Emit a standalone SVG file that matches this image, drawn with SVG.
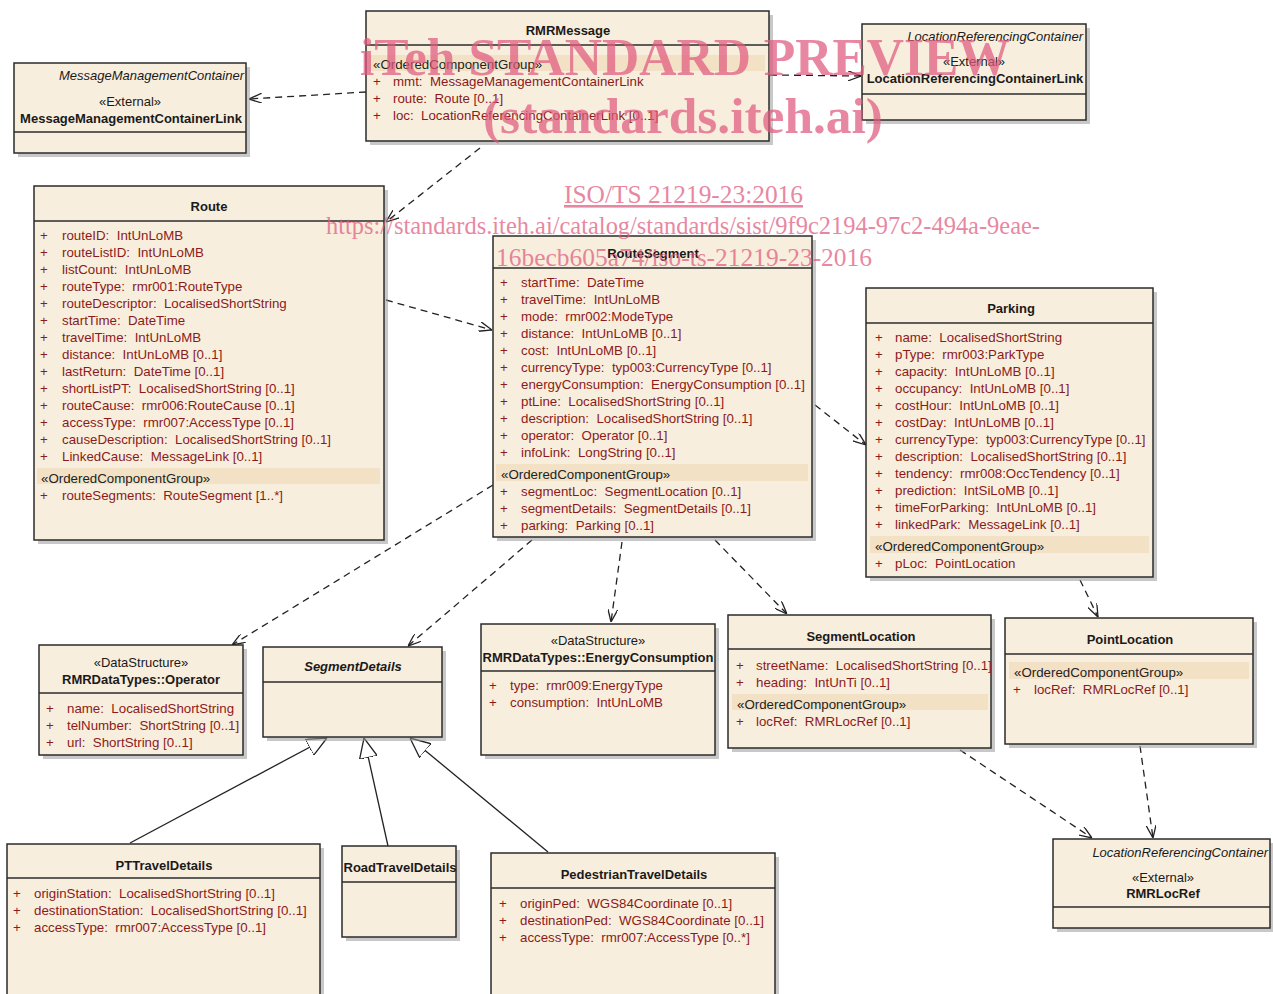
<svg xmlns="http://www.w3.org/2000/svg" width="1273" height="994" viewBox="0 0 1273 994">
<style>
.bg{fill:#ffffff}
.sh{fill:#9a9a9a;opacity:.55}
.box{fill:#F8EEDD;stroke:#2b2b2b;stroke-width:1.5}
.div{stroke:#2b2b2b;stroke-width:1.5}
.band{fill:#F3E1C6}
text{font-family:"Liberation Sans",Arial,sans-serif;font-size:13.3px;white-space:pre}
.t{font-weight:bold;fill:#1a1a1a;text-anchor:middle;font-size:13px}
.ti{font-weight:bold;font-style:italic;fill:#1a1a1a;text-anchor:middle;font-size:13px}
.st{fill:#1a1a1a;text-anchor:middle;font-size:13px}
.pk{font-style:italic;fill:#1a1a1a;text-anchor:end;font-size:13px}
.a{fill:#8B1A1A}
.g{fill:#222}
.dep{fill:none;stroke:#222;stroke-width:1.3;stroke-dasharray:7 5}
.gen{fill:none;stroke:#222;stroke-width:1.3}
.wm{font-family:"Liberation Serif","Times New Roman",serif;fill:#E05A7E;opacity:.72}
.w1{font-size:52px;font-weight:bold}
.w2{font-size:50px;font-weight:bold}
.w3{font-size:26px;text-decoration:underline}
.w4{font-size:25px}
</style>
<defs>
<marker id="open" viewBox="0 0 13 10" refX="13" refY="5" markerWidth="13" markerHeight="10" orient="auto" markerUnits="userSpaceOnUse"><path d="M0,0 L13,5 L0,10" fill="none" stroke="#222" stroke-width="1.3" stroke-dasharray="none"/></marker>
<marker id="tri" viewBox="0 0 20 18" refX="20" refY="9" markerWidth="20" markerHeight="18" orient="auto" markerUnits="userSpaceOnUse"><path d="M0,0 L20,9 L0,18 Z" fill="#ffffff" stroke="#222" stroke-width="1.3"/></marker>
</defs>
<rect class="bg" x="0" y="0" width="1273" height="994"/>

<g id="connectors">
<line class="dep" x1="366" y1="92" x2="249" y2="99" marker-end="url(#open)"/>
<line class="dep" x1="770" y1="75" x2="861" y2="76" marker-end="url(#open)"/>
<line class="dep" x1="480" y1="148" x2="386" y2="222" marker-end="url(#open)"/>
<line class="dep" x1="386" y1="300" x2="492" y2="330" marker-end="url(#open)"/>
<line class="dep" x1="815" y1="405" x2="866" y2="445" marker-end="url(#open)"/>
<line class="dep" x1="493" y1="485" x2="232" y2="645" marker-end="url(#open)"/>
<line class="dep" x1="532" y1="540" x2="408" y2="646" marker-end="url(#open)"/>
<line class="dep" x1="622" y1="542" x2="611" y2="622" marker-end="url(#open)"/>
<line class="dep" x1="715" y1="540" x2="787" y2="614" marker-end="url(#open)"/>
<line class="dep" x1="1080" y1="580" x2="1098" y2="617" marker-end="url(#open)"/>
<line class="dep" x1="960" y1="750" x2="1092" y2="838" marker-end="url(#open)"/>
<line class="dep" x1="1140" y1="746" x2="1153" y2="838" marker-end="url(#open)"/>
<line class="gen" x1="130" y1="843" x2="327" y2="738" marker-end="url(#tri)"/>
<line class="gen" x1="388" y1="846" x2="364" y2="738" marker-end="url(#tri)"/>
<line class="gen" x1="548" y1="852" x2="410" y2="738" marker-end="url(#tri)"/>
</g>

<g id="RMRMessage">
<rect class="sh" x="370" y="15" width="403" height="130"/>
<rect class="box" x="366" y="11" width="403" height="130"/>
<line class="div" x1="366" y1="45" x2="769" y2="45"/>
<text class="t" x="568" y="35">RMRMessage</text>
<rect class="band" x="369" y="55" width="396" height="16"/>
<text class="g" x="373" y="69">«OrderedComponentGroup»</text>
<text class="a"><tspan x="373" y="86">+</tspan><tspan x="373" y="103">+</tspan><tspan x="373" y="120">+</tspan></text>
<text class="a"><tspan x="393" y="86">mmt:  MessageManagementContainerLink</tspan><tspan x="393" y="103">route:  Route [0..1]</tspan><tspan x="393" y="120">loc:  LocationReferencingContainerLink [0..1]</tspan></text>
</g>

<g id="MessageManagementContainerLink">
<rect class="sh" x="18" y="67" width="232" height="90"/>
<rect class="box" x="14" y="63" width="232" height="90"/>
<line class="div" x1="14" y1="132" x2="246" y2="132"/>
<text class="pk" x="244" y="80">MessageManagementContainer</text>
<text class="st" x="130" y="106">«External»</text>
<text class="t" x="131" y="123">MessageManagementContainerLink</text>
</g>

<g id="LocationReferencingContainerLink">
<rect class="sh" x="866" y="28" width="224" height="96"/>
<rect class="box" x="862" y="24" width="224" height="96"/>
<line class="div" x1="862" y1="94" x2="1086" y2="94"/>
<text class="pk" x="1083" y="41">LocationReferencingContainer</text>
<text class="st" x="974" y="66">«External»</text>
<text class="t" x="975" y="83">LocationReferencingContainerLink</text>
</g>

<g id="Route">
<rect class="sh" x="38" y="190" width="350" height="354"/>
<rect class="box" x="34" y="186" width="350" height="354"/>
<line class="div" x1="34" y1="221" x2="384" y2="221"/>
<text class="t" x="209" y="211">Route</text>
<text class="a"><tspan x="40" y="240">+</tspan><tspan x="40" y="257">+</tspan><tspan x="40" y="274">+</tspan><tspan x="40" y="291">+</tspan><tspan x="40" y="308">+</tspan><tspan x="40" y="325">+</tspan><tspan x="40" y="342">+</tspan><tspan x="40" y="359">+</tspan><tspan x="40" y="376">+</tspan><tspan x="40" y="393">+</tspan><tspan x="40" y="410">+</tspan><tspan x="40" y="427">+</tspan><tspan x="40" y="444">+</tspan><tspan x="40" y="461">+</tspan><tspan x="40" y="500">+</tspan></text>
<text class="a"><tspan x="62" y="240">routeID:  IntUnLoMB</tspan><tspan x="62" y="257">routeListID:  IntUnLoMB</tspan><tspan x="62" y="274">listCount:  IntUnLoMB</tspan><tspan x="62" y="291">routeType:  rmr001:RouteType</tspan><tspan x="62" y="308">routeDescriptor:  LocalisedShortString</tspan><tspan x="62" y="325">startTime:  DateTime</tspan><tspan x="62" y="342">travelTime:  IntUnLoMB</tspan><tspan x="62" y="359">distance:  IntUnLoMB [0..1]</tspan><tspan x="62" y="376">lastReturn:  DateTime [0..1]</tspan><tspan x="62" y="393">shortListPT:  LocalisedShortString [0..1]</tspan><tspan x="62" y="410">routeCause:  rmr006:RouteCause [0..1]</tspan><tspan x="62" y="427">accessType:  rmr007:AccessType [0..1]</tspan><tspan x="62" y="444">causeDescription:  LocalisedShortString [0..1]</tspan><tspan x="62" y="461">LinkedCause:  MessageLink [0..1]</tspan></text>
<rect class="band" x="37" y="468" width="343" height="16"/>
<text class="g" x="41" y="483">«OrderedComponentGroup»</text>
<text class="a" x="62" y="500">routeSegments:  RouteSegment [1..*]</text>
</g>

<g id="RouteSegment">
<rect class="sh" x="497" y="240" width="319" height="301"/>
<rect class="box" x="493" y="236" width="319" height="301"/>
<line class="div" x1="493" y1="268" x2="812" y2="268"/>
<text class="t" x="653" y="258">RouteSegment</text>
<text class="a"><tspan x="500" y="287">+</tspan><tspan x="500" y="304">+</tspan><tspan x="500" y="321">+</tspan><tspan x="500" y="338">+</tspan><tspan x="500" y="355">+</tspan><tspan x="500" y="372">+</tspan><tspan x="500" y="389">+</tspan><tspan x="500" y="406">+</tspan><tspan x="500" y="423">+</tspan><tspan x="500" y="440">+</tspan><tspan x="500" y="457">+</tspan><tspan x="500" y="496">+</tspan><tspan x="500" y="513">+</tspan><tspan x="500" y="530">+</tspan></text>
<text class="a"><tspan x="521" y="287">startTime:  DateTime</tspan><tspan x="521" y="304">travelTime:  IntUnLoMB</tspan><tspan x="521" y="321">mode:  rmr002:ModeType</tspan><tspan x="521" y="338">distance:  IntUnLoMB [0..1]</tspan><tspan x="521" y="355">cost:  IntUnLoMB [0..1]</tspan><tspan x="521" y="372">currencyType:  typ003:CurrencyType [0..1]</tspan><tspan x="521" y="389">energyConsumption:  EnergyConsumption [0..1]</tspan><tspan x="521" y="406">ptLine:  LocalisedShortString [0..1]</tspan><tspan x="521" y="423">description:  LocalisedShortString [0..1]</tspan><tspan x="521" y="440">operator:  Operator [0..1]</tspan><tspan x="521" y="457">infoLink:  LongString [0..1]</tspan></text>
<rect class="band" x="496" y="464" width="312" height="17"/>
<text class="g" x="501" y="479">«OrderedComponentGroup»</text>
<text class="a"><tspan x="521" y="496">segmentLoc:  SegmentLocation [0..1]</tspan><tspan x="521" y="513">segmentDetails:  SegmentDetails [0..1]</tspan><tspan x="521" y="530">parking:  Parking [0..1]</tspan></text>
</g>

<g id="Parking">
<rect class="sh" x="870" y="292" width="287" height="289"/>
<rect class="box" x="866" y="288" width="287" height="289"/>
<line class="div" x1="866" y1="323" x2="1153" y2="323"/>
<text class="t" x="1011" y="313">Parking</text>
<text class="a"><tspan x="875" y="342">+</tspan><tspan x="875" y="359">+</tspan><tspan x="875" y="376">+</tspan><tspan x="875" y="393">+</tspan><tspan x="875" y="410">+</tspan><tspan x="875" y="427">+</tspan><tspan x="875" y="444">+</tspan><tspan x="875" y="461">+</tspan><tspan x="875" y="478">+</tspan><tspan x="875" y="495">+</tspan><tspan x="875" y="512">+</tspan><tspan x="875" y="529">+</tspan><tspan x="875" y="568">+</tspan></text>
<text class="a"><tspan x="895" y="342">name:  LocalisedShortString</tspan><tspan x="895" y="359">pType:  rmr003:ParkType</tspan><tspan x="895" y="376">capacity:  IntUnLoMB [0..1]</tspan><tspan x="895" y="393">occupancy:  IntUnLoMB [0..1]</tspan><tspan x="895" y="410">costHour:  IntUnLoMB [0..1]</tspan><tspan x="895" y="427">costDay:  IntUnLoMB [0..1]</tspan><tspan x="895" y="444">currencyType:  typ003:CurrencyType [0..1]</tspan><tspan x="895" y="461">description:  LocalisedShortString [0..1]</tspan><tspan x="895" y="478">tendency:  rmr008:OccTendency [0..1]</tspan><tspan x="895" y="495">prediction:  IntSiLoMB [0..1]</tspan><tspan x="895" y="512">timeForParking:  IntUnLoMB [0..1]</tspan><tspan x="895" y="529">linkedPark:  MessageLink [0..1]</tspan></text>
<rect class="band" x="870" y="536" width="279" height="17"/>
<text class="g" x="875" y="551">«OrderedComponentGroup»</text>
<text class="a" x="895" y="568">pLoc:  PointLocation</text>
</g>

<g id="Operator">
<rect class="sh" x="43" y="649" width="204" height="110"/>
<rect class="box" x="39" y="645" width="204" height="110"/>
<line class="div" x1="39" y1="693" x2="243" y2="693"/>
<text class="st" x="141" y="667">«DataStructure»</text>
<text class="t" x="141" y="684">RMRDataTypes::Operator</text>
<text class="a"><tspan x="46" y="713">+</tspan><tspan x="46" y="730">+</tspan><tspan x="46" y="747">+</tspan></text>
<text class="a"><tspan x="67" y="713">name:  LocalisedShortString</tspan><tspan x="67" y="730">telNumber:  ShortString [0..1]</tspan><tspan x="67" y="747">url:  ShortString [0..1]</tspan></text>
</g>

<g id="SegmentDetails">
<rect class="sh" x="267" y="651" width="179" height="90"/>
<rect class="box" x="263" y="647" width="179" height="90"/>
<line class="div" x1="263" y1="682" x2="442" y2="682"/>
<text class="ti" x="353" y="671">SegmentDetails</text>
</g>

<g id="EnergyConsumption">
<rect class="sh" x="485" y="628" width="234" height="131"/>
<rect class="box" x="481" y="624" width="234" height="131"/>
<line class="div" x1="481" y1="671" x2="715" y2="671"/>
<text class="st" x="598" y="645">«DataStructure»</text>
<text class="t" x="598" y="662">RMRDataTypes::EnergyConsumption</text>
<text class="a"><tspan x="489" y="690">+</tspan><tspan x="489" y="707">+</tspan></text>
<text class="a"><tspan x="510" y="690">type:  rmr009:EnergyType</tspan><tspan x="510" y="707">consumption:  IntUnLoMB</tspan></text>
</g>

<g id="SegmentLocation">
<rect class="sh" x="732" y="619" width="263" height="133"/>
<rect class="box" x="728" y="615" width="263" height="133"/>
<line class="div" x1="728" y1="649" x2="991" y2="649"/>
<text class="t" x="861" y="641">SegmentLocation</text>
<text class="a"><tspan x="736" y="670">+</tspan><tspan x="736" y="687">+</tspan><tspan x="736" y="726">+</tspan></text>
<text class="a"><tspan x="756" y="670">streetName:  LocalisedShortString [0..1]</tspan><tspan x="756" y="687">heading:  IntUnTi [0..1]</tspan></text>
<rect class="band" x="732" y="694" width="256" height="16"/>
<text class="g" x="737" y="709">«OrderedComponentGroup»</text>
<text class="a" x="756" y="726">locRef:  RMRLocRef [0..1]</text>
</g>

<g id="PointLocation">
<rect class="sh" x="1009" y="622" width="248" height="126"/>
<rect class="box" x="1005" y="618" width="248" height="126"/>
<line class="div" x1="1005" y1="654" x2="1253" y2="654"/>
<text class="t" x="1130" y="644">PointLocation</text>
<rect class="band" x="1009" y="662" width="240" height="17"/>
<text class="g" x="1014" y="677">«OrderedComponentGroup»</text>
<text class="a" x="1013" y="694">+</text>
<text class="a" x="1034" y="694">locRef:  RMRLocRef [0..1]</text>
</g>

<g id="RMRLocRef">
<rect class="sh" x="1057" y="843" width="217" height="89"/>
<rect class="box" x="1053" y="839" width="217" height="89"/>
<line class="div" x1="1053" y1="907" x2="1270" y2="907"/>
<text class="pk" x="1268" y="857">LocationReferencingContainer</text>
<text class="st" x="1163" y="882">«External»</text>
<text class="t" x="1163" y="898">RMRLocRef</text>
</g>

<g id="PTTravelDetails">
<rect class="sh" x="11" y="848" width="313" height="160"/>
<rect class="box" x="7" y="844" width="313" height="160"/>
<line class="div" x1="7" y1="878" x2="320" y2="878"/>
<text class="t" x="164" y="870">PTTravelDetails</text>
<text class="a"><tspan x="13" y="898">+</tspan><tspan x="13" y="915">+</tspan><tspan x="13" y="932">+</tspan></text>
<text class="a"><tspan x="34" y="898">originStation:  LocalisedShortString [0..1]</tspan><tspan x="34" y="915">destinationStation:  LocalisedShortString [0..1]</tspan><tspan x="34" y="932">accessType:  rmr007:AccessType [0..1]</tspan></text>
</g>

<g id="RoadTravelDetails">
<rect class="sh" x="346" y="850" width="114" height="91"/>
<rect class="box" x="342" y="846" width="114" height="91"/>
<line class="div" x1="342" y1="882" x2="456" y2="882"/>
<text class="t" x="400" y="872" textLength="113" lengthAdjust="spacingAndGlyphs">RoadTravelDetails</text>
</g>

<g id="PedestrianTravelDetails">
<rect class="sh" x="495" y="857" width="284" height="150"/>
<rect class="box" x="491" y="853" width="284" height="150"/>
<line class="div" x1="491" y1="888" x2="775" y2="888"/>
<text class="t" x="634" y="879">PedestrianTravelDetails</text>
<text class="a"><tspan x="499" y="908">+</tspan><tspan x="499" y="925">+</tspan><tspan x="499" y="942">+</tspan></text>
<text class="a"><tspan x="520" y="908">originPed:  WGS84Coordinate [0..1]</tspan><tspan x="520" y="925">destinationPed:  WGS84Coordinate [0..1]</tspan><tspan x="520" y="942">accessType:  rmr007:AccessType [0..*]</tspan></text>
</g>

<g id="watermark">
<text class="wm w1" x="360" y="75" textLength="650" lengthAdjust="spacingAndGlyphs">iTeh STANDARD PREVIEW</text>
<text class="wm w2" x="483" y="133" textLength="400" lengthAdjust="spacingAndGlyphs">(standards.iteh.ai)</text>
<text class="wm w3" x="564" y="203" textLength="239" lengthAdjust="spacingAndGlyphs">ISO/TS 21219-23:2016</text>
<text class="wm w4" x="326" y="234" textLength="714" lengthAdjust="spacingAndGlyphs">https://standards.iteh.ai/catalog/standards/sist/9f9c2194-97c2-494a-9eae-</text>
<text class="wm w4" x="496" y="266" textLength="376" lengthAdjust="spacingAndGlyphs">16becb605a74/iso-ts-21219-23-2016</text>
</g>
</svg>
